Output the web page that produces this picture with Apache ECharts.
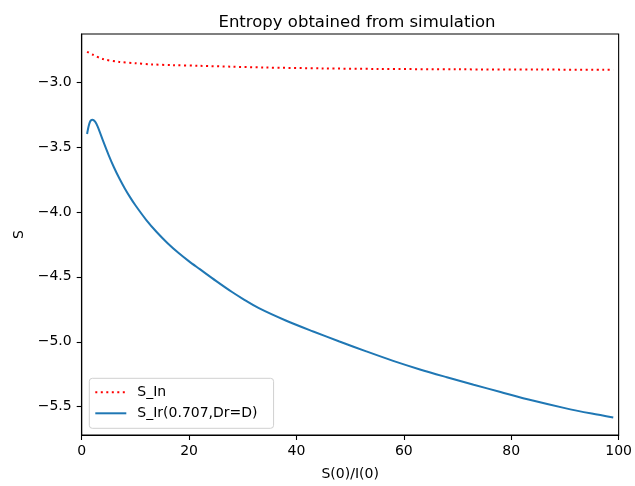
<!DOCTYPE html>
<html><head><meta charset="utf-8">
<script src="https://cdn.jsdelivr.net/npm/echarts@6/dist/echarts.min.js"></script>
<style>html,body{margin:0;padding:0;background:#fff}#c{width:635px;height:486px}</style>
</head><body><div id="c"></div>
<script>
var titleText = 'Entropy obtained from simulation';
var xName = 'S(0)/I(0)';
var yName = 'S';
var seriesNames = ['S_In', 'S_Ir(0.707,Dr=D)'];
var xTicks = [0, 20, 40, 60, 80, 100];
var yTicks = [-5.5, -5.0, -4.5, -4.0, -3.5, -3.0];

var redX = [1, 2, 4, 7, 10, 13, 17, 22, 28, 34, 45, 55, 70, 85, 99];
var redY = [-2.767, -2.788, -2.823, -2.845, -2.855, -2.864, -2.870, -2.875, -2.882, -2.888, -2.895, -2.899, -2.902, -2.904, -2.905];

var blueX = [1, 1.5, 2, 2.5, 3, 4, 5, 6, 7, 8, 9, 10, 12, 14, 16, 18, 20, 22, 25, 28, 30, 33, 38, 43, 48, 53, 58, 63, 68, 73, 78, 84, 90, 95, 99];
var blueY = [-3.40, -3.31, -3.29, -3.305, -3.345, -3.455, -3.56, -3.656, -3.741, -3.817, -3.886, -3.949, -4.061, -4.157, -4.241, -4.315, -4.381, -4.441, -4.531, -4.617, -4.669, -4.741, -4.836, -4.919, -4.998, -5.074, -5.147, -5.213, -5.273, -5.331, -5.387, -5.453, -5.511, -5.553, -5.583];

function pairs(xs, ys) { return xs.map(function (x, i) { return [x, ys[i]]; }); }
function fmt(v) { return (v < 0 ? '\u2212' : '') + Math.abs(v).toFixed(1); }

var font = 'DejaVu Sans';
var chart = echarts.init(document.getElementById('c'));
chart.setOption({
  animation: false,
  backgroundColor: '#fff',
  title: {
    text: titleText, left: 352, top: 9, textAlign: 'center',
    textStyle: { fontFamily: font, fontSize: 16.5, fontWeight: 'normal', color: '#000' }
  },
  grid: { left: 81.7, right: 12.7, top: 34, bottom: 50, show: true, borderColor: '#000', borderWidth: 1.1, backgroundColor: '#fff' },
  legend: {
    orient: 'vertical', left: 89.3, top: 378.3,
    backgroundColor: '#fff', borderColor: '#d0d0d0', borderWidth: 1, borderRadius: 3,
    padding: [7, 16, 8, 5], itemGap: 7, itemWidth: 31, itemHeight: 14,
    itemStyle: { opacity: 0 },
    textStyle: { fontFamily: font, fontSize: 14, color: '#000', padding: [0, 0, 0, 6] },
    data: seriesNames
  },
  xAxis: {
    type: 'value', min: 0, max: 100, interval: 20,
    name: xName, nameLocation: 'middle', nameGap: 32,
    nameTextStyle: { fontFamily: font, fontSize: 14, color: '#000' },
    axisLine: { show: true, onZero: false, lineStyle: { color: '#000', width: 1.1 } },
    axisTick: { show: true, length: 5, lineStyle: { color: '#000', width: 1.1 } },
    axisLabel: { fontFamily: font, fontSize: 14, color: '#000', margin: 9, customValues: xTicks },
    splitLine: { show: false }
  },
  yAxis: {
    type: 'value', min: -5.718, max: -2.63,
    name: yName, nameLocation: 'middle', nameGap: 55, nameRotate: 90,
    nameTextStyle: { fontFamily: font, fontSize: 14, color: '#000' },
    axisLine: { show: true, onZero: false, lineStyle: { color: '#000', width: 1.1 } },
    axisTick: { show: true, length: 5, lineStyle: { color: '#000', width: 1.1 }, customValues: yTicks },
    axisLabel: { fontFamily: font, fontSize: 14, color: '#000', margin: 10, customValues: yTicks, formatter: fmt },
    splitLine: { show: false }
  },
  series: [
    {
      name: seriesNames[0], type: 'line', data: pairs(redX, redY), smooth: 0.3,
      symbol: 'none', showSymbol: false, color: '#ff0000',
      lineStyle: { color: '#ff0000', width: 2, type: [2, 3.5], cap: 'butt' }
    },
    {
      name: seriesNames[1], type: 'line', data: pairs(blueX, blueY), smooth: 0.3,
      symbol: 'none', showSymbol: false, color: '#1f77b4',
      lineStyle: { color: '#1f77b4', width: 2 }
    }
  ]
});
</script></body></html>
